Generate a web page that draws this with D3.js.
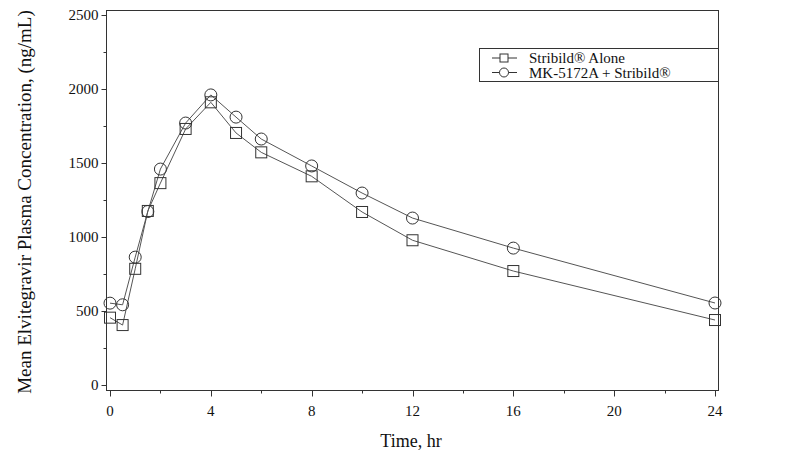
<!DOCTYPE html>
<html>
<head>
<meta charset="utf-8">
<script src="https://cdn.jsdelivr.net/npm/d3@7"></script>
<style>
  body { margin: 0; background: #fff; }
  text { font-family: "Liberation Serif", "DejaVu Serif", serif; fill: #111; }
</style>
</head>
<body>
<script>
// time points (hr)
var times = [0, 0.5, 1, 1.5, 2, 3, 4, 5, 6, 8, 10, 12, 16, 24];
// mean concentrations (ng/mL)
var stribildAlone = [455, 405, 785, 1176, 1364, 1730, 1910, 1703, 1572, 1410, 1169, 978, 770, 439];
var mkPlusStribild = [553, 542, 864, 1172, 1459, 1770, 1960, 1810, 1662, 1480, 1297, 1128, 925, 554];
var seriesNames = ["Stribild\u00AE Alone", "MK-5172A + Stribild\u00AE"];
var xTicks = [0, 4, 8, 12, 16, 20, 24];
var yTicks = [0, 500, 1000, 1500, 2000, 2500];

var width = 794, height = 454;

var svg = d3.select("body").append("svg")
    .attr("width", width)
    .attr("height", height);

var x = d3.scaleLinear().domain([0, 24]).range([110, 715]);
var y = d3.scaleLinear().domain([0, 2500]).range([385, 15]);

// frame
var frame = { left: 106.5, top: 10.5, right: 718.5, bottom: 390.5 };
svg.append("rect")
    .attr("x", frame.left)
    .attr("y", frame.top)
    .attr("width", frame.right - frame.left)
    .attr("height", frame.bottom - frame.top)
    .attr("fill", "none")
    .attr("stroke", "#333")
    .attr("stroke-width", 1);

// y axis ticks
var yAxis = svg.append("g");
d3.range(0, 2501, 250).forEach(function (v) {
    var major = v % 500 === 0;
    yAxis.append("line")
        .attr("x1", frame.left)
        .attr("x2", frame.left - (major ? 5 : 3))
        .attr("y1", Math.round(y(v)) + 0.5)
        .attr("y2", Math.round(y(v)) + 0.5)
        .attr("stroke", "#333");
});
yAxis.selectAll("text.tick")
    .data(yTicks)
    .enter().append("text")
    .attr("class", "tick")
    .attr("x", frame.left - 8)
    .attr("y", function (d) { return y(d); })
    .attr("dy", "0.35em")
    .attr("text-anchor", "end")
    .style("font-size", "15px")
    .text(function (d) { return d; });

// x axis ticks
var xAxis = svg.append("g");
d3.range(0, 25, 2).forEach(function (v) {
    var major = v % 4 === 0;
    xAxis.append("line")
        .attr("x1", Math.round(x(v)) + 0.5)
        .attr("x2", Math.round(x(v)) + 0.5)
        .attr("y1", frame.bottom)
        .attr("y2", frame.bottom + (major ? 6 : 3))
        .attr("stroke", "#333");
});
xAxis.selectAll("text.tick")
    .data(xTicks)
    .enter().append("text")
    .attr("class", "tick")
    .attr("x", function (d) { return x(d); })
    .attr("y", 416)
    .attr("text-anchor", "middle")
    .style("font-size", "15px")
    .text(function (d) { return d; });

// axis labels
svg.append("text")
    .attr("x", 411)
    .attr("y", 447)
    .attr("text-anchor", "middle")
    .style("font-size", "18px")
    .text("Time, hr");

svg.append("text")
    .attr("transform", "translate(31,202) rotate(-90)")
    .attr("text-anchor", "middle")
    .style("font-size", "19px")
    .text("Mean Elvitegravir Plasma Concentration, (ng/mL)");

// lines and markers
var line = d3.line()
    .x(function (d) { return x(d[0]); })
    .y(function (d) { return y(d[1]); });

var series = [stribildAlone, mkPlusStribild].map(function (vals) {
    return times.map(function (t, i) { return [t, vals[i]]; });
});

series.forEach(function (pts) {
    svg.append("path")
        .attr("d", line(pts))
        .attr("fill", "none")
        .attr("stroke", "#555")
        .attr("stroke-width", 1);
});

function drawMarker(g, kind, cx, cy) {
    if (kind === 0) {
        g.append("rect")
            .attr("x", cx - 5.5)
            .attr("y", cy - 5.5)
            .attr("width", 11)
            .attr("height", 11)
            .attr("fill", "none")
            .attr("stroke", "#333")
            .attr("stroke-width", 1);
    } else {
        g.append("circle")
            .attr("cx", cx)
            .attr("cy", cy)
            .attr("r", 6)
            .attr("fill", "none")
            .attr("stroke", "#333")
            .attr("stroke-width", 1);
    }
}

var markers = svg.append("g");
series.forEach(function (pts, k) {
    pts.forEach(function (p) {
        drawMarker(markers, k, x(p[0]), y(p[1]));
    });
});

// legend
var legend = svg.append("g");
legend.append("rect")
    .attr("x", 479.5)
    .attr("y", 48.5)
    .attr("width", 239)
    .attr("height", 33)
    .attr("fill", "#fff")
    .attr("stroke", "#333");

seriesNames.forEach(function (name, i) {
    var ly = 58 + i * 14.5;
    legend.append("line")
        .attr("x1", 492).attr("x2", 517)
        .attr("y1", ly).attr("y2", ly)
        .attr("stroke", "#333");
    if (i === 0) {
        legend.append("rect")
            .attr("x", 500).attr("y", ly - 4)
            .attr("width", 8).attr("height", 8)
            .attr("fill", "#fff").attr("stroke", "#333");
    } else {
        legend.append("circle")
            .attr("cx", 504).attr("cy", ly).attr("r", 4.5)
            .attr("fill", "#fff").attr("stroke", "#333");
    }
    legend.append("text")
        .attr("x", 529)
        .attr("y", ly)
        .attr("dy", "0.35em")
        .style("font-size", "15px")
        .text(name);
});
</script>
</body>
</html>
